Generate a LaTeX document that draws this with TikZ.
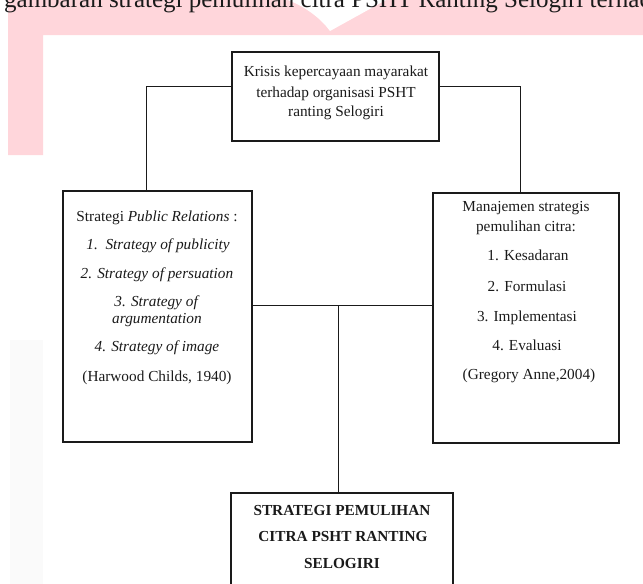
\documentclass[tikz,border=0pt]{standalone}
\usepackage{fontspec}
\setmainfont{Liberation Serif}
\definecolor{pinkbg}{HTML}{FFD6DB}
\definecolor{stripbg}{HTML}{FAFAFA}
\definecolor{ink}{HTML}{1A1A1A}
\begin{document}
\begin{tikzpicture}[x=1pt,y=-1pt,
  box/.style={draw=ink, line width=1.1pt, rectangle, inner sep=0pt},
  conn/.style={draw=ink, line width=0.9pt},
  txt/.style={anchor=base, inner sep=0pt, font=\fontsize{15.3}{17.5}\selectfont, text=ink},
  btxt/.style={anchor=base, inner sep=0pt, font=\fontsize{15.3}{17.5}\selectfont\bfseries, text=ink}]
\useasboundingbox (0,0) rectangle (643,584);
\begin{scope}
\clip (0,0) rectangle (643,584);
% background remnants
\fill[pinkbg] (8,0) -- (643,0) -- (643,35) -- (43,35) -- (43,155) -- (8,155) -- cycle;
\fill[white] (288,0) .. controls (308,8) and (322,20) .. (330,31) -- (386,0) -- cycle;
\fill[stripbg] (10,340) rectangle (43,584);
\node[anchor=base west, inner sep=0pt, font=\fontsize{25}{30}\selectfont, text=ink] (hdr) at (4,7) {gambaran strategi pemulihan citra PSHT Ranting Selogiri terhadap masyarakat};

% boxes
\node[box, minimum width=207pt, minimum height=89pt] (top) at (335.5,96.5) {};
\node[box, minimum width=189pt, minimum height=251pt] (lbox) at (157.5,316.5) {};
\node[box, minimum width=186pt, minimum height=250pt] (rbox) at (526,318) {};
\node[box, minimum width=222pt, minimum height=127pt] (bbox) at (342,556.5) {};

% connectors
\draw[conn] ([yshift=10.5pt]top.west) -| ([xshift=-11.5pt]lbox.north);
\draw[conn] ([yshift=10.5pt]top.east) -| ([xshift=-6pt]rbox.north);
\draw[conn] ([yshift=11.5pt]lbox.east) coordinate (m1) -- (m1 -| rbox.west);
\draw[conn] ([xshift=-4pt]bbox.north) coordinate (b1) -- (b1 |- m1);

% top box text
\node[txt] (t1) at (336,76) {Krisis kepercayaan mayarakat};
\node[txt] (t2) at (336,97) {terhadap organisasi PSHT};
\node[txt] (t3) at (336,116) {ranting Selogiri};

% left box text
\node[txt] (l1) at (157,221) {Strategi \textit{Public Relations} :};
\node[txt] (l2) at (158,249) {\textit{1.\ \ Strategy of publicity}};
\node[txt] (l3) at (157,278) {\textit{2. Strategy of persuation}};
\node[txt] (l4) at (157,306) {\textit{3. Strategy of}};
\node[txt] (l5) at (157,323) {\textit{argumentation}};
\node[txt] (l6) at (157,351) {\textit{4. Strategy of image}};
\node[txt] (l7) at (157,381) {(Harwood Childs, 1940)};

% right box text
\node[txt] (r1) at (526,211) {Manajemen strategis};
\node[txt] (r2) at (526,231) {pemulihan citra:};
\node[txt] (r3) at (528,260) {1. Kesadaran};
\node[txt] (r4) at (527,291) {2. Formulasi};
\node[txt] (r5) at (527,321) {3. Implementasi};
\node[txt] (r6) at (527,350) {4. Evaluasi};
\node[txt] (r7) at (529,379) {(Gregory Anne,2004)};

% bottom box text
\node[btxt] (b1t) at (342,515) {STRATEGI PEMULIHAN};
\node[btxt] (b2t) at (343,541) {CITRA PSHT RANTING};
\node[btxt] (b3t) at (342,568) {SELOGIRI};
\end{scope}
\end{tikzpicture}
\end{document}
